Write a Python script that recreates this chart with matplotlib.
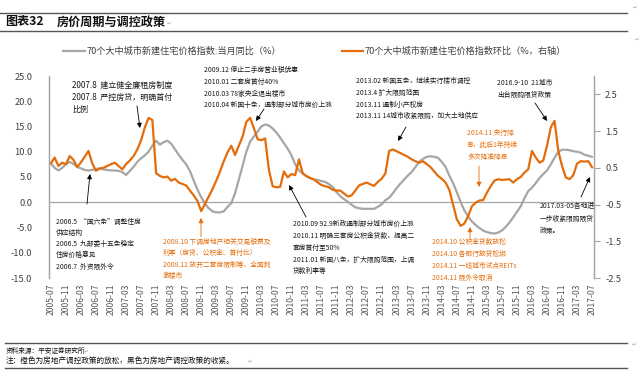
import matplotlib
matplotlib.use('Agg')
import matplotlib.pyplot as plt
from matplotlib.lines import Line2D
import pandas as pd

plt.rcParams['font.family'] = ['Noto Sans CJK SC', 'DejaVu Sans']
plt.rcParams['axes.unicode_minus'] = False

# ---------------- data ----------------
months = pd.date_range('2005-07-01', '2017-07-01', freq='MS').strftime('%Y-%m').tolist()

yoy = [  # 70个大中城市新建住宅价格指数:当月同比(%)
    7.7, 6.8, 6.3, 6.8, 7.5, 8.0,
    7.6, 7.0, 6.7, 6.4, 6.3, 6.4, 6.6, 6.7, 6.5, 6.4, 6.3, 6.3,
    6.2, 6.0, 5.4, 6.2, 7.0, 8.0, 8.7, 9.3, 10.0, 11.2, 12.2, 11.4,
    11.9, 12.2, 11.6, 10.5, 9.4, 8.4, 7.5, 6.2, 4.3, 2.5, 1.0, -0.3,
    -1.2, -1.8, -2.0, -2.0, -1.8, -0.9, -0.2, 1.8, 4.5, 7.2, 10.0, 12.0,
    13.0, 14.0, 15.0, 15.4, 15.2, 14.6, 13.8, 12.8, 11.7, 10.6, 9.3, 7.5,
    6.3, 5.7, 5.2, 4.8, 4.5, 4.4, 4.2, 4.0, 3.6, 3.0, 2.0, 1.2,
    0.6, 0.1, -0.5, -1.0, -1.2, -1.3, -1.3, -1.3, -1.3, -0.9, -0.4, 0.4,
    0.9, 1.8, 2.8, 3.7, 4.5, 5.3, 6.0, 7.0, 8.0, 8.6, 9.0, 9.1,
    9.0, 8.8, 8.0, 7.0, 5.3, 3.8, 2.0, 0.1, -1.6, -2.8, -3.8, -4.5,
    -5.1, -5.6, -5.9, -6.1, -6.2, -6.0, -5.6, -4.9, -4.0, -3.0, -1.9, -0.8,
    0.8, 2.2, 2.9, 3.8, 4.8, 5.6, 6.3, 7.5, 8.8, 10.0, 10.4, 10.4,
    10.3, 10.1, 10.0, 9.8, 9.4, 9.2, 9.0,
]

mom = [  # 70个大中城市新建住宅价格指数环比(%, 右轴)
    0.62, 0.78, 0.55, 0.64, 0.60, 0.82,
    0.72, 0.52, 0.65, 0.80, 0.96, 0.62, 0.42, 0.48, 0.50, 0.55, 0.60, 0.64,
    0.55, 0.46, 0.60, 0.70, 0.82, 1.00, 1.25, 1.60, 1.86, 1.80, 0.35, 0.28,
    0.24, 0.26, 0.15, 0.20, 0.10, 0.06, 0.02, -0.12, -0.25, -0.40, -0.68, -0.48,
    -0.28, -0.08, 0.15, 0.40, 0.68, 0.92, 1.10, 0.85, 1.10, 1.35, 1.75, 1.86,
    1.58, 1.28, 1.25, 1.30, 0.45, 0.00, -0.03, -0.02, 0.40, 0.24, 0.33, 0.30,
    0.73, 0.35, 0.27, 0.22, 0.18, 0.10, 0.03, 0.00, -0.03, -0.10, -0.12, -0.12,
    -0.20, -0.28, -0.25, -0.12, 0.02, 0.06, 0.10, 0.05, 0.01, 0.12, 0.20, 0.35,
    0.96, 1.00, 0.95, 0.90, 0.85, 0.80, 0.73, 0.68, 0.64, 0.68, 0.60, 0.52,
    0.40, 0.28, 0.20, 0.10, -0.10, -0.50, -0.90, -1.08, -1.02, -0.82, -0.55, -0.45,
    -0.39, -0.38, -0.18, 0.00, 0.15, 0.19, 0.17, 0.18, 0.19, 0.10, 0.19, 0.25,
    0.37, 0.46, 0.96, 0.78, 0.64, 0.70, 1.10, 1.60, 1.78, 0.96, 0.55, 0.24,
    0.19, 0.30, 0.62, 0.68, 0.67, 0.68, 0.51,
]

left_ticks = [-15, -10, -5, 0, 5, 10, 15, 20, 25]
right_ticks = [-2.5, -1.5, -0.5, 0.5, 1.5, 2.5]
xtick_every = 4

legend_yoy = '70个大中城市新建住宅价格指数:当月同比（%）'
legend_mom = '70个大中城市新建住宅价格指数环比（%，右轴）'

GREY = '#A6A6A6'
ORANGE = '#E46C0A'
TXT = '#1A1A1A'

W, H = 640, 375
fig = plt.figure(figsize=(6.4, 3.75), dpi=100)


def fp(x, y):
    return (x / W, 1 - y / H)


ax = fig.add_axes([49 / W, 1 - 278 / H, (594 - 49) / W, (278 - 76) / H])
ax2 = ax.twinx()

x = list(range(len(months)))
ax.plot(x, yoy, color=GREY, lw=1.6, solid_capstyle='round', zorder=3)
ax2.plot(x, mom, color=ORANGE, lw=1.6, solid_capstyle='round', zorder=3)

ax.set_xlim(-0.5, len(months) - 0.5)
ax.set_ylim(-15, 25)
ax2.set_ylim(-2.5, 3.0)
ax.axhline(0, color=GREY, lw=0.9, zorder=1)

ax.set_yticks(left_ticks)
ax.set_yticklabels([f'{v:.1f}' for v in left_ticks])
ax2.set_yticks(right_ticks)
ax2.set_yticklabels([f'{v:.1f}' for v in right_ticks])
ax.set_xticks(x[::xtick_every])
ax.set_xticklabels(months[::xtick_every], rotation=90)

ax.tick_params(axis='y', length=0, pad=12, labelsize=6.7, labelcolor='#404040')
ax.tick_params(axis='x', length=0, pad=4, labelsize=6.2, labelcolor='#595959')
ax2.tick_params(axis='y', length=4, width=0.8, color=GREY, pad=4, labelsize=6.7,
                labelcolor='#404040', direction='out')

for a in (ax, ax2):
    a.spines['top'].set_visible(False)
    a.spines['bottom'].set_visible(False)
    a.spines['left'].set_color(GREY)
    a.spines['right'].set_color(GREY)
    a.spines['left'].set_linewidth(0.9)
    a.spines['right'].set_linewidth(0.9)
    a.patch.set_visible(False)

# ---------------- title & frame lines ----------------
for yy in (13, 31):
    fig.add_artist(Line2D([0, 627 / W], [1 - yy / H] * 2, color='#555555', lw=1.0))
fig.text(*fp(5, 22), '图表32', fontsize=8.7, fontweight='bold', va='center', color='#111111')
fig.text(*fp(57, 22), '房价周期与调控政策', fontsize=8.7, fontweight='bold', va='center',
         color='#111111')

# paragraph marks
for (px, py) in [(167, 24), (633, 8), (635, 40), (84, 352), (248, 362), (632, 345)]:
    fig.text(*fp(px, py), '↵', fontsize=4, va='center', color='#AAAAAA',
             family=['DejaVu Sans'])

# ---------------- legend ----------------
fig.add_artist(Line2D([63 / W, 85 / W], [1 - 51 / H] * 2, color=GREY, lw=1.6))
fig.text(*fp(87, 51), legend_yoy, fontsize=6.6, va='center', color='#404040')
fig.add_artist(Line2D([342 / W, 363 / W], [1 - 51 / H] * 2, color=ORANGE, lw=1.6))
fig.text(*fp(365, 51), legend_mom, fontsize=6.6, va='center', color='#404040')


# ---------------- annotations ----------------
def block(x0, ys, lines, color=TXT, size=4.9):
    for yy, s in zip(ys, lines):
        fig.text(*fp(x0, yy), s, fontsize=size, va='center', ha='left', color=color)


def arrow(x0, y0, x1, y1, color='black'):
    ax.annotate('', xy=fp(x1, y1), xycoords='figure fraction',
                xytext=fp(x0, y0), textcoords='figure fraction',
                arrowprops=dict(arrowstyle='-|>', color=color, lw=0.6,
                                mutation_scale=7, shrinkA=0, shrinkB=0),
                annotation_clip=False)


block(72, [85, 97, 109], ['2007.8  建立健全廉租房制度', '2007.8  严控房贷，明确首付', '比例'],
      size=5.8)
arrow(137, 106, 140, 128)

block(204, [70, 82, 93.5, 105], ['2009.12 停止二手房营业税优惠', '2010.01 二套房首付40%',
                                  '2010.03 78家央企退出楼市',
                                  '2010.04 新国十条，遏制部分城市房价上涨'])
arrow(264, 109, 256, 121)

block(356, [81, 93, 104.5, 116], ['2013.02 新国五条，继续实行楼市调控', '2013.4 扩大限购范围',
                                   '2013.11 遏制小产权房',
                                   '2013.11 14城市收紧限购，加大土地供应'])
arrow(406, 127, 398, 141)

block(497, [83, 94.5], ['2016.9-10  21城市', '出台限购限贷政策'])
arrow(535, 103, 547, 121)

block(540, [206, 219, 231.5], ['2017.03-05各地进', '一步收紧限购限贷', '政策。'])
arrow(581, 197, 590, 177)

block(293, [224, 236, 248, 260, 271], ['2010.09 92.9新政遏制部分城市房价上涨',
                                       '2010.11 明确三套房公积金贷款，提高二',
                                       '套房首付至50%',
                                       '2011.01 新国八条，扩大限购范围，上调',
                                       '贷款利率等'])
arrow(306, 217, 289, 185)

block(56, [222, 233, 244, 255, 267], ['2006.5  “国六条”调整住房', '供应结构',
                                      '2006.5  九部委十五条稳定', '住房价格意见',
                                      '2006.7  外资限外令'])
arrow(87, 204, 90, 174)

block(163, [242, 253, 265, 276], ['2008.10 下调房地产相关交易税费及',
                                  '利率（房贷、公积金、首付比）',
                                  '2008.12 放开二套房限制等，全面刺',
                                  '激楼市'], color=ORANGE)
arrow(201, 237, 201, 218, color=ORANGE)

block(467, [133, 145, 156.5], ['2014.11 央行降', '息，此后1年持续', '多次降准降息'], color=ORANGE)
arrow(479, 166, 479, 187, color=ORANGE)

block(432, [242, 254, 266, 278], ['2014.10 公积金贷款放松', '2014.10 各银行放贷松绑',
                                  '2014.11 一线城市试点REITs', '2014.11 限外令取消'],
      color=ORANGE)
arrow(470, 239, 470, 227, color=ORANGE)

# ---------------- footer ----------------
fig.add_artist(Line2D([5 / W, 627 / W], [1 - 343 / H] * 2, color='#555555', lw=1.0))
fig.add_artist(Line2D([5 / W, 627 / W], [1 - 367.5 / H] * 2, color='#555555', lw=1.0))
fig.text(*fp(6, 351), '资料来源：平安证券研究所', fontsize=4.8, va='center', color='#111111')
fig.text(*fp(6, 361), '注：橙色为房地产调控政策的放松，黑色为房地产调控政策的收紧。',
         fontsize=5.5, va='center', color='#111111')

fig.savefig('out.png', dpi=100)
